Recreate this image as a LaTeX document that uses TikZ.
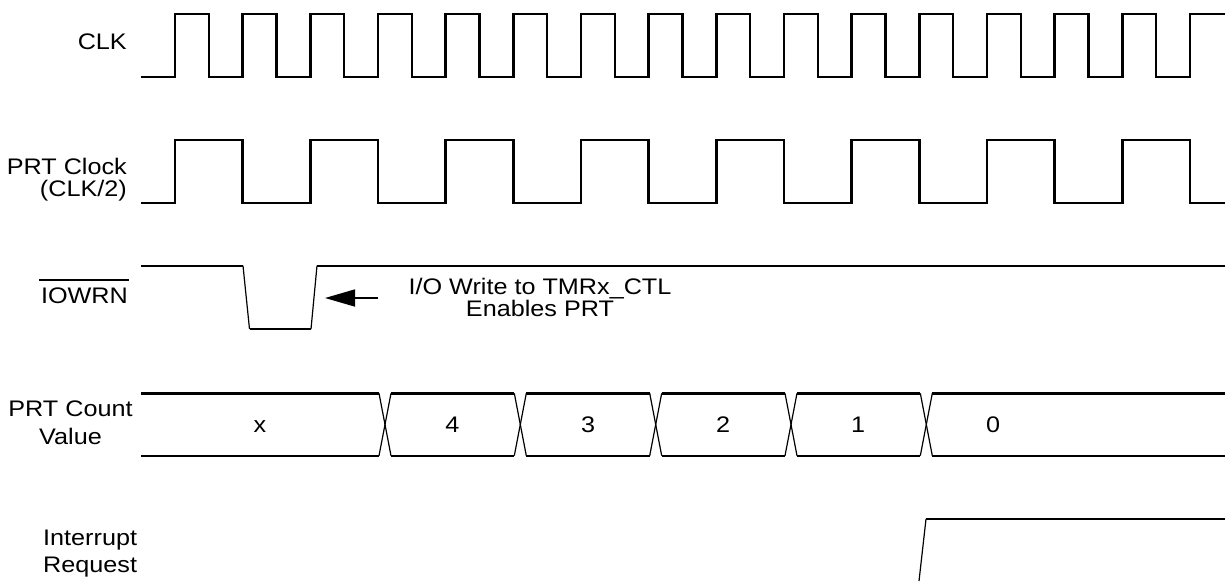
\documentclass[tikz,border=0pt]{standalone}
\usepackage{fontspec}
\setmainfont{Liberation Sans}[FakeStretch=1.12]
\usetikzlibrary{arrows.meta}
\begin{document}
\begin{tikzpicture}[x=1pt,y=-1pt,
  wave/.style={line width=2.4pt, line join=miter},
  slant/.style={line width=1.2pt},
  lbl/.style={inner sep=0pt, font=\fontsize{22.5}{22.4}\selectfont},
  val/.style={inner sep=0pt, anchor=base, font=\fontsize{22.5}{22.4}\selectfont}]
\useasboundingbox (0,0) rectangle (1225,581);

% CLK
\draw[wave] (141,76.7) foreach \k in {0,...,14} { -- ({175+67.667*\k},76.7) -- ({175+67.667*\k},13.8) -- ({208.83+67.667*\k},13.8) -- ({208.83+67.667*\k},76.7) } -- (1190,76.7) -- (1190,13.8) -- (1225,13.8);

% PRT Clock
\draw[wave] (141,203) foreach \k in {0,...,7} { -- ({175+135.333*\k},203) -- ({175+135.333*\k},140) -- ({242.67+135.333*\k},140) -- ({242.67+135.333*\k},203) } -- (1225,203);

% IOWRN
\draw[wave] (141,265.7) -- (243,265.7);
\draw[slant] (243,265.7) -- (249.5,329);
\draw[wave] (249.5,329) -- (311,329);
\draw[slant] (311,329) -- (317,265.7);
\draw[wave] (317,265.7) -- (1225,265.7);

% PRT count bus
\foreach \a/\b in {141/379, 391/514.3, 526.3/649.7, 661.7/785, 797/920.3, 932.3/1225} {
  \draw[wave] (\a,393.3) -- (\b,393.3);
  \draw[wave] (\a,455.7) -- (\b,455.7);
}
\foreach \t in {379, 514.3, 649.7, 785, 920.3} {
  \draw[slant] (\t,393.3) -- ({\t+12},455.7);
  \draw[slant] ({\t+12},393.3) -- (\t,455.7);
}
\node[val] (vx) at (260,432.5) {x};
\node[val] (v4) at (452.5,432.5) {4};
\node[val] (v3) at (588,432.5) {3};
\node[val] (v2) at (723,432.5) {2};
\node[val] (v1) at (858,432.5) {1};
\node[val] (v0) at (993,432.5) {0};

% Interrupt request
\draw[slant] (919,581) -- (926,519);
\draw[wave] (926,519) -- (1225,519);

% Labels
\node[lbl, anchor=base east] (lclk) at (127,49) {CLK};
\node[lbl, anchor=north east, align=right] (lprt) at (127,158) {PRT Clock\\(CLK/2)};
\node[lbl, anchor=base east] (liow) at (128,303) {IOWRN};
\draw[line width=1.5pt] ([xshift=-2pt,yshift=7pt]liow.north west) -- ([xshift=1pt,yshift=7pt]liow.north east);
\node[lbl, anchor=north, align=center, font=\fontsize{22.5}{27.3}\selectfont] (lcnt) at (70.5,401) {PRT Count\\Value};
\node[lbl, anchor=north west, align=left, font=\fontsize{22.5}{26.7}\selectfont] (lirq) at (43,530) {Interrupt\\Request};
\node[lbl, anchor=north, align=center, font=\fontsize{22.5}{22}\selectfont] (note) at (540,278) {I/O Write to TMRx\_CTL\\Enables PRT};

% Arrow
\coordinate (atail) at (378,298);
\coordinate (ahead) at (325,298);
\draw[line width=1.6pt, -{Triangle[length=30pt,width=17pt]}] (atail) -- (ahead);
\end{tikzpicture}
\end{document}
